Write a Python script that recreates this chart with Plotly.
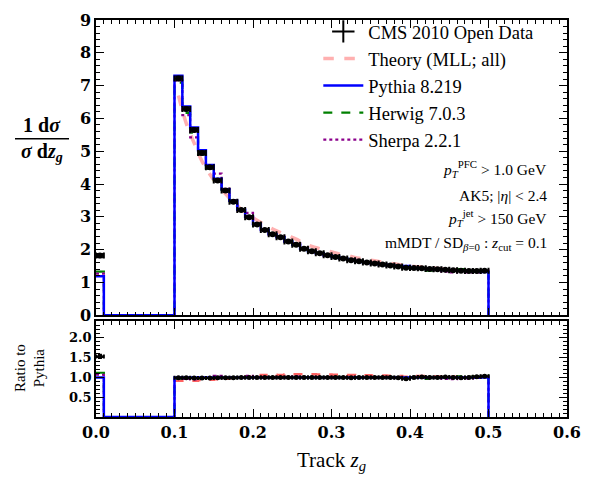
import plotly.graph_objects as go

# ---------------- data ----------------
edges = [0.00, 0.01, 0.02, 0.03, 0.04, 0.05, 0.06, 0.07, 0.08, 0.09,
         0.10, 0.11, 0.12, 0.13, 0.14, 0.15, 0.16, 0.17, 0.18, 0.19,
         0.20, 0.21, 0.22, 0.23, 0.24, 0.25, 0.26, 0.27, 0.28, 0.29,
         0.30, 0.31, 0.32, 0.33, 0.34, 0.35, 0.36, 0.37, 0.38, 0.39,
         0.40, 0.41, 0.42, 0.43, 0.44, 0.45, 0.46, 0.47, 0.48, 0.49, 0.50]

# CMS data (None = empty bin)
cms = [1.82, None, None, None, None, None, None, None, None, None,
       7.22, 6.29, 5.65, 4.95, 4.51, 4.11, 3.80, 3.46, 3.21, 2.99,
       2.77, 2.60, 2.47, 2.38, 2.25, 2.15, 2.03, 1.95, 1.89, 1.83,
       1.78, 1.73, 1.68, 1.65, 1.61, 1.58, 1.55, 1.52, 1.49, 1.45,
       1.44, 1.43, 1.41, 1.40, 1.39, 1.37, 1.36, 1.35, 1.35, 1.36]
cms_err = [0.05, None, None, None, None, None, None, None, None, None,
           0.06, 0.05, 0.05, 0.05, 0.04, 0.04, 0.04, 0.04, 0.03, 0.03,
           0.03, 0.03, 0.03, 0.03, 0.03, 0.03, 0.03, 0.03, 0.02, 0.02,
           0.02, 0.02, 0.02, 0.02, 0.02, 0.02, 0.02, 0.02, 0.02, 0.02,
           0.02, 0.02, 0.02, 0.02, 0.02, 0.02, 0.02, 0.02, 0.02, 0.02]

pythia = [1.19, 0, 0, 0, 0, 0, 0, 0, 0, 0,
          7.30, 6.36, 5.72, 5.03, 4.58, 4.16, 3.84, 3.49, 3.22, 3.00,
          2.78, 2.60, 2.47, 2.38, 2.25, 2.15, 2.03, 1.95, 1.89, 1.83,
          1.78, 1.73, 1.69, 1.65, 1.61, 1.58, 1.55, 1.52, 1.50, 1.50,
          1.44, 1.42, 1.41, 1.40, 1.38, 1.37, 1.37, 1.35, 1.33, 1.32]

herwig = [1.33, 0, 0, 0, 0, 0, 0, 0, 0, 0,
          7.09, 6.17, 5.57, 4.90, 4.48, 4.12, 3.82, 3.48, 3.24, 3.02,
          2.80, 2.61, 2.48, 2.38, 2.26, 2.16, 2.05, 1.96, 1.90, 1.84,
          1.80, 1.74, 1.69, 1.66, 1.62, 1.58, 1.55, 1.53, 1.50, 1.48,
          1.44, 1.44, 1.36, 1.40, 1.38, 1.37, 1.41, 1.38, 1.36, 1.38]

sherpa = [1.27, 0, 0, 0, 0, 0, 0, 0, 0, 0,
          7.15, 6.10, 5.42, 4.98, 4.50, 4.32, 3.85, 3.50, 3.20, 3.12,
          2.78, 2.62, 2.46, 2.40, 2.25, 2.20, 2.03, 1.96, 1.90, 1.82,
          1.79, 1.73, 1.68, 1.65, 1.62, 1.58, 1.56, 1.52, 1.49, 1.48,
          1.45, 1.42, 1.41, 1.40, 1.33, 1.31, 1.36, 1.31, 1.31, 1.36]

# Theory (MLL; all), bin averages for bins 0.10 ... 0.50
theory = [6.70, 5.85, 5.25, 4.70, 4.30, 3.97, 3.70, 3.45, 3.23, 3.05,
          2.90, 2.76, 2.63, 2.52, 2.42, 2.32, 2.19, 2.10, 2.03, 1.96,
          1.90, 1.84, 1.79, 1.74, 1.70, 1.66, 1.62, 1.58, 1.55, 1.52,
          1.49, 1.47, 1.45, 1.43, 1.41, 1.39, 1.38, 1.36, 1.35, 1.34]
theory_first_bin = 10  # index of the 0.10 edge

x_ticks = [0.0, 0.1, 0.2, 0.3, 0.4, 0.5, 0.6]
ratio_ticks = [0.5, 1.0, 1.5, 2.0]

# ---------------- derived ----------------
centers = [(edges[i] + edges[i + 1]) / 2 for i in range(len(edges) - 1)]
half_w = [(edges[i + 1] - edges[i]) / 2 for i in range(len(edges) - 1)]

def ratio(vals):
    return [v / p if p > 0 else 0.0 for v, p in zip(vals, pythia)]

d_idx = [i for i, v in enumerate(cms) if v is not None]
d_x = [centers[i] for i in d_idx]
d_xe = [half_w[i] for i in d_idx]
d_y = [cms[i] for i in d_idx]
d_ye = [cms_err[i] for i in d_idx]
d_r = [cms[i] / pythia[i] for i in d_idx]
d_re = [cms_err[i] / pythia[i] for i in d_idx]

th_edges = edges[theory_first_bin:]
th_x = centers[theory_first_bin:]
th_r = [t / p for t, p in zip(theory, pythia[theory_first_bin:])]

SERIF = "Liberation Serif"
BLUE = "#0000ff"
GREEN = "#008000"
PURPLE = "#8b008b"
PINK = "rgba(255,150,150,0.75)"
RED = "rgba(255,70,70,0.85)"

fig = go.Figure()

# ---- main panel ----
fig.add_trace(go.Scatter(x=th_x, y=theory, mode="lines", line=dict(color=PINK, width=3.5, dash="dash", shape="spline"),
                         name="Theory (MLL; all)", legendrank=2, xaxis="x", yaxis="y"))
fig.add_trace(go.Scatter(x=edges, y=herwig + [0], mode="lines", line=dict(color=GREEN, width=2.2, dash="dash", shape="hv"),
                         name="Herwig 7.0.3", legendrank=4, xaxis="x", yaxis="y"))
fig.add_trace(go.Scatter(x=edges, y=sherpa + [0], mode="lines", line=dict(color=PURPLE, width=2.2, dash="dot", shape="hv"),
                         name="Sherpa 2.2.1", legendrank=5, xaxis="x", yaxis="y"))
fig.add_trace(go.Scatter(x=edges, y=pythia + [0], mode="lines", line=dict(color=BLUE, width=2.5, shape="hv"),
                         name="Pythia 8.219", legendrank=3, xaxis="x", yaxis="y"))
fig.add_trace(go.Scatter(x=d_x, y=d_y, mode="markers", marker=dict(color="black", size=6),
                         error_x=dict(type="data", array=d_xe, color="black", thickness=2, width=3),
                         error_y=dict(type="data", array=d_ye, color="black", thickness=2, width=3),
                         showlegend=False, xaxis="x", yaxis="y"))
# legend handle for data
fig.add_trace(go.Scatter(x=[None], y=[None], mode="markers",
                         marker=dict(symbol="cross-thin", size=16, color="black", line=dict(color="black", width=2)),
                         name="CMS 2010 Open Data", legendrank=1, xaxis="x", yaxis="y"))

# ---- ratio panel ----
fig.add_trace(go.Scatter(x=th_edges, y=th_r + [th_r[-1]], mode="lines", line=dict(color=RED, width=2.5, dash="dash", shape="hv"),
                         showlegend=False, xaxis="x2", yaxis="y2"))
fig.add_trace(go.Scatter(x=edges, y=ratio(herwig) + [0], mode="lines", line=dict(color=GREEN, width=2.2, dash="dash", shape="hv"),
                         showlegend=False, xaxis="x2", yaxis="y2"))
fig.add_trace(go.Scatter(x=edges, y=ratio(sherpa) + [0], mode="lines", line=dict(color=PURPLE, width=2.2, dash="dot", shape="hv"),
                         showlegend=False, xaxis="x2", yaxis="y2"))
fig.add_trace(go.Scatter(x=edges, y=ratio(pythia) + [0], mode="lines", line=dict(color=BLUE, width=2.5, shape="hv"),
                         showlegend=False, xaxis="x2", yaxis="y2"))
fig.add_trace(go.Scatter(x=d_x, y=d_r, mode="markers", marker=dict(color="black", size=5),
                         error_x=dict(type="data", array=d_xe, color="black", thickness=2, width=2),
                         error_y=dict(type="data", array=d_re, color="black", thickness=2, width=2),
                         showlegend=False, xaxis="x2", yaxis="y2"))

tickfont = dict(family="DejaVu Serif", size=16, color="black", weight="bold")
common = dict(showline=True, linecolor="black", linewidth=1.5, mirror="ticks", ticks="inside",
              ticklen=8, tickwidth=1.2, tickcolor="black", showgrid=False, zeroline=False,
              tickfont=tickfont, ticklabeloverflow="allow")

fig.update_layout(
    width=597, height=478,
    margin=dict(l=96, r=30, t=11, b=61),
    plot_bgcolor="white", paper_bgcolor="white",
    showlegend=True,
    legend=dict(x=0.472, y=1.018, xanchor="left", yanchor="top", bgcolor="rgba(0,0,0,0)",
                font=dict(family=SERIF, size=18.5, color="black"), itemwidth=40, tracegroupgap=0),
    xaxis=dict(domain=[0, 1], range=[0, 0.6], anchor="y", tickvals=x_ticks, showticklabels=False,
               minor=dict(ticks="inside", ticklen=4, tickwidth=1, tickcolor="black", tickmode="linear", tick0=0, dtick=0.01),
               **common),
    yaxis=dict(domain=[0.2562, 1], range=[0, 9], anchor="x", tickmode="linear", tick0=0, dtick=1,
               minor=dict(ticks="inside", ticklen=4, tickwidth=1, tickcolor="black", tickmode="linear", tick0=0, dtick=0.2),
               **common),
    xaxis2=dict(domain=[0, 1], range=[0, 0.6], anchor="y2", tickvals=x_ticks, tickformat=".1f",
                minor=dict(ticks="inside", ticklen=4, tickwidth=1, tickcolor="black", tickmode="linear", tick0=0, dtick=0.01),
                **common),
    yaxis2=dict(domain=[0, 0.2414], range=[0, 2.42], anchor="x2", tickvals=ratio_ticks, tickformat=".1f",
                minor=dict(ticks="inside", ticklen=4, tickwidth=1, tickcolor="black", tickmode="linear", tick0=0, dtick=0.1),
                **{**common, "tickfont": dict(family="DejaVu Serif", size=13, color="black", weight="bold")}),
)

# ---- texts ----
ann = []
def px(xp):  # helper: page pixel -> paper x
    return (xp - 96) / 471
def py(yp):
    return (417 - yp) / 406

note_font = dict(family=SERIF, size=15.5, color="black")
ann.append(dict(x=px(549), y=py(163), text="<i>p</i><sub><i>T</i></sub><sup>PFC</sup> &gt; 1.0 GeV", xanchor="right"))
ann.append(dict(x=px(549), y=py(190), text="AK5; |<i>η</i>| &lt; 2.4", xanchor="right"))
ann.append(dict(x=px(549), y=py(213), text="<i>p</i><sub><i>T</i></sub><sup>jet</sup> &gt; 150 GeV", xanchor="right"))
ann.append(dict(x=px(549), y=py(240), text="mMDT / SD<sub><i>β</i>=0</sub> : <i>z</i><sub>cut</sub> = 0.1", xanchor="right"))
for a in ann:
    a.update(xref="paper", yref="paper", showarrow=False, font=note_font, yanchor="middle")

frac_font = dict(family=SERIF, size=20, color="black", weight="bold")
ann.append(dict(x=px(42), y=py(131), text="1 d<i>σ</i>", xref="paper", yref="paper", showarrow=False,
                font=frac_font, xanchor="center", yanchor="bottom", borderpad=0))
ann.append(dict(x=px(42), y=py(133), text="<i>σ</i> d<i>z</i><sub><i>g</i></sub>", xref="paper", yref="paper", showarrow=False,
                font=frac_font, xanchor="center", yanchor="top", borderpad=0))
ann.append(dict(x=px(30), y=py(367), text="Ratio to<br>Pythia", xref="paper", yref="paper", showarrow=False,
                font=dict(family=SERIF, size=15, color="black"), textangle=-90, xanchor="center", yanchor="middle"))
ann.append(dict(x=px(331), y=py(462), text="Track <i>z</i><sub><i>g</i></sub>", xref="paper", yref="paper", showarrow=False,
                font=dict(family=SERIF, size=21, color="black"), xanchor="center", yanchor="middle"))
fig.update_layout(annotations=ann)

fig.add_shape(type="line", xref="paper", yref="paper", x0=px(15), x1=px(69), y0=py(132.5), y1=py(132.5),
              line=dict(color="black", width=1.6))

# remove the default 8px page margin so the figure sits at the window's top-left corner
fig.write_html("out.html", config={"displayModeBar": False},
               post_script="document.body.style.margin='0';")
